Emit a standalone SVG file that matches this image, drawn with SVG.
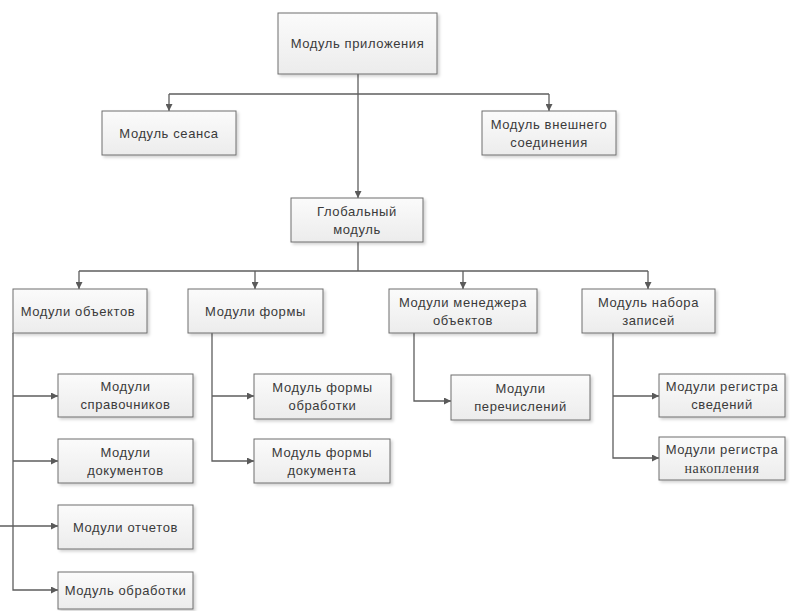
<svg xmlns="http://www.w3.org/2000/svg" width="790" height="611" viewBox="0 0 790 611">
  <defs>
    <linearGradient id="boxFill" x1="0" y1="0" x2="0" y2="1">
      <stop offset="0" stop-color="#fbfbfb"/>
      <stop offset="1" stop-color="#ececec"/>
    </linearGradient>
    <filter id="shadow" x="-10%" y="-10%" width="130%" height="140%">
      <feDropShadow dx="2" dy="2" stdDeviation="1.5" flood-color="#000" flood-opacity="0.18"/>
    </filter>
    <marker id="arrow" viewBox="0 0 10 10" refX="10" refY="5" markerWidth="7" markerHeight="7" markerUnits="userSpaceOnUse" orient="auto">
      <path d="M0,0 L10,5 L0,10 Z" fill="#5a5a5a"/>
    </marker>
  </defs>
  <style>
    .box { fill: url(#boxFill); stroke: #6e6e6e; stroke-width: 1; filter: url(#shadow); }
    .lbl { font-family: "Liberation Sans", Arial, sans-serif; font-size: 13px; fill: #3a3a3a; text-anchor: middle; letter-spacing: 0.6px; }
    .serif { font-family: "Liberation Serif", "Times New Roman", serif; font-size: 14px; letter-spacing: 0.6px; }
    .edge { fill: none; stroke: #5e5e5e; stroke-width: 1.3; }
    .arr { marker-end: url(#arrow); }
  </style>
  <rect width="790" height="611" fill="#ffffff"/>

  <!-- connectors -->
  <g id="connectors">
    <!-- application module to global module, with side branches -->
    <path class="edge arr" d="M358,74 V198"/>
    <path class="edge" d="M169,94 H549"/>
    <path class="edge arr" d="M169,94 V111"/>
    <path class="edge arr" d="M549,94 V111"/>
    <!-- global module to second tier -->
    <path class="edge" d="M358,242 V271"/>
    <path class="edge" d="M79,271 H648"/>
    <path class="edge arr" d="M79,271 V289"/>
    <path class="edge arr" d="M255,271 V289"/>
    <path class="edge arr" d="M463,271 V289"/>
    <path class="edge arr" d="M648,271 V289"/>
    <!-- object modules -->
    <path class="edge arr" d="M13,333 V590 H58"/>
    <path class="edge arr" d="M13,396 H58"/>
    <path class="edge arr" d="M13,461 H58"/>
    <path class="edge arr" d="M0,526 H58"/>
    <!-- form modules -->
    <path class="edge arr" d="M212,333 V461 H254"/>
    <path class="edge arr" d="M212,396 H254"/>
    <!-- manager modules -->
    <path class="edge arr" d="M414,333 V401 H451"/>
    <!-- record set modules -->
    <path class="edge arr" d="M613,333 V458 H659"/>
    <path class="edge arr" d="M613,396 H659"/>
  </g>

  <g id="app-module">
    <rect class="box" x="278" y="13" width="159" height="61"/>
    <text class="lbl" x="357.5" y="48">Модуль приложения</text>
  </g>
  <g id="session-module">
    <rect class="box" x="102" y="111" width="134" height="44"/>
    <text class="lbl" x="169" y="137.5">Модуль сеанса</text>
  </g>
  <g id="ext-connection-module">
    <rect class="box" x="482" y="111" width="134" height="44"/>
    <text class="lbl" x="549" y="128.5">Модуль внешнего</text>
    <text class="lbl" x="549" y="146.5">соединения</text>
  </g>
  <g id="global-module">
    <rect class="box" x="291" y="198" width="132" height="44"/>
    <text class="lbl" x="357" y="215.5">Глобальный</text>
    <text class="lbl" x="357" y="233.5">модуль</text>
  </g>

  <g id="object-modules">
    <rect class="box" x="13" y="289" width="134" height="44"/>
    <text class="lbl" x="78" y="315.5">Модули объектов</text>
  </g>
  <g id="form-modules">
    <rect class="box" x="188" y="289" width="135" height="44"/>
    <text class="lbl" x="255.5" y="315.5">Модули формы</text>
  </g>
  <g id="manager-modules">
    <rect class="box" x="389" y="289" width="148" height="44"/>
    <text class="lbl" x="463" y="306.5">Модули менеджера</text>
    <text class="lbl" x="463" y="324.5">объектов</text>
  </g>
  <g id="recordset-module">
    <rect class="box" x="582" y="289" width="133" height="44"/>
    <text class="lbl" x="648.5" y="306.5">Модуль набора</text>
    <text class="lbl" x="648.5" y="324.5">записей</text>
  </g>

  <g id="catalog-modules">
    <rect class="box" x="58" y="374" width="135" height="43"/>
    <text class="lbl" x="125.5" y="391">Модули</text>
    <text class="lbl" x="125.5" y="409">справочников</text>
  </g>
  <g id="document-modules">
    <rect class="box" x="58" y="439" width="135" height="44"/>
    <text class="lbl" x="125.5" y="456.5">Модули</text>
    <text class="lbl" x="125.5" y="474.5">документов</text>
  </g>
  <g id="report-modules">
    <rect class="box" x="58" y="505" width="135" height="44"/>
    <text class="lbl" x="125.5" y="531.5">Модули отчетов</text>
  </g>
  <g id="processing-module">
    <rect class="box" x="58" y="572" width="135" height="37"/>
    <text class="lbl" x="125.5" y="595">Модуль обработки</text>
  </g>

  <g id="processing-form-module">
    <rect class="box" x="254" y="374" width="137" height="45"/>
    <text class="lbl" x="322.5" y="391.5">Модуль формы</text>
    <text class="lbl" x="322.5" y="409.5">обработки</text>
  </g>
  <g id="document-form-module">
    <rect class="box" x="254" y="439" width="136" height="44"/>
    <text class="lbl" x="322" y="456.5">Модуль формы</text>
    <text class="lbl" x="322" y="474.5">документа</text>
  </g>

  <g id="enum-modules">
    <rect class="box" x="451" y="375" width="139" height="45"/>
    <text class="lbl" x="520.5" y="392.5">Модули</text>
    <text class="lbl" x="520.5" y="410.5">перечислений</text>
  </g>

  <g id="info-register-modules">
    <rect class="box" x="659" y="374" width="126" height="43"/>
    <text class="lbl" x="722" y="391">Модули регистра</text>
    <text class="lbl" x="722" y="409">сведений</text>
  </g>
  <g id="accum-register-modules">
    <rect class="box" x="659" y="437" width="126" height="43"/>
    <text class="lbl" x="722" y="454">Модули регистра</text>
    <text class="lbl serif" x="722" y="473">накопления</text>
  </g>
</svg>
